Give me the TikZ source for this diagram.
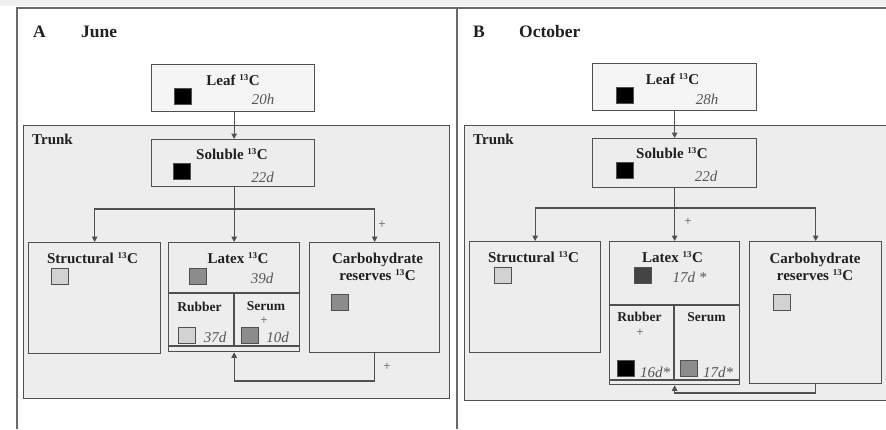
\documentclass[tikz,border=0pt]{standalone}
\usepackage{fontspec}
\setmainfont{Liberation Serif}
\usetikzlibrary{arrows.meta}
\definecolor{ln}{HTML}{505050}
\definecolor{frame}{HTML}{6A6A6A}
\definecolor{trk}{HTML}{EDEDED}
\definecolor{numcol}{HTML}{555555}
\definecolor{txt}{HTML}{202020}
\definecolor{lgray}{HTML}{D2D2D2}
\definecolor{mgray}{HTML}{8C8C8C}
\definecolor{dgray}{HTML}{444444}
\newcommand{\thirteen}{\textsuperscript{\fontsize{9}{10}\selectfont 13}}
\begin{document}
\begin{tikzpicture}[x=1pt,y=-1pt,
  box/.style={draw=ln, line width=1.3pt, fill=trk, inner sep=0pt, rectangle, anchor=north west},
  sq/.style={draw=ln, line width=1pt, minimum width=17pt, minimum height=16pt, inner sep=0pt},
  ttl/.style={font=\fontsize{15}{17}\selectfont\bfseries, text=txt, inner sep=0pt, align=center},
  sub/.style={font=\fontsize{13.5}{15}\selectfont\bfseries, text=txt, inner sep=0pt},
  head/.style={font=\fontsize{17.5}{19}\selectfont\bfseries, text=txt, inner sep=0pt, anchor=west},
  num/.style={font=\fontsize{15}{17}\selectfont\itshape, text=numcol, inner sep=0pt},
  pl/.style={font=\fontsize{13}{14}\selectfont, text=numcol, inner sep=0pt},
  conn/.style={draw=ln, line width=1.2pt},
  arr/.style={conn, -{Triangle[length=5.5pt,width=5.5pt]}}]
\useasboundingbox (0,0) rectangle (886,429);
\fill[white] (0,0) rectangle (886,429);
\fill[black!6] (0,0) rectangle (886,6);
% panel frames
\draw[frame, line width=1.3pt] (17,429) -- (17,8) -- (886,8);
\draw[frame, line width=1.3pt] (457,8) -- (457,429);
% ---------------- Panel A ----------------
\node[head] (hA) at (33,32) {A};
\node[head] (mA) at (81,32) {June};
\node[box, minimum width=426pt, minimum height=273pt] (trunkA) at (23,125) {};
\node[ttl, anchor=west] (tA) at (32,139) {Trunk};
\node[box, fill=white!96!black, minimum width=163pt, minimum height=47pt] (leafA) at (151,64) {};
\node[box, minimum width=163pt, minimum height=47pt] (solA) at (151,139) {};
\node[box, minimum width=132pt, minimum height=111pt] (strA) at (28,242) {};
\node[box, minimum width=131pt, minimum height=109pt] (latA) at (168,242) {};
\node[box, minimum width=130pt, minimum height=110pt] (carbA) at (309,242) {};
\draw[conn] (168,293) -- (299,293);
\draw[conn] (234,293) -- (234,346);
\draw[conn] (168,346) -- (299,346);
\node[ttl] (leafAt) at (233,80) {Leaf \thirteen C};
\node[sq, fill=black] (leafAs) at (182.5,96.5) {};
\node[num] (leafAn) at (263,99) {20h};
\node[ttl] (solAt) at (232,154) {Soluble \thirteen C};
\node[sq, fill=black] (solAs) at (182,171.5) {};
\node[num] (solAn) at (262.5,177) {22d};
\node[ttl] (strAt) at (92.5,258) {Structural \thirteen C};
\node[sq, fill=lgray] (strAs) at (60,276) {};
\node[ttl] (latAt) at (238,258) {Latex \thirteen C};
\node[sq, fill=mgray] (latAs) at (198,276) {};
\node[num] (latAn) at (262,278) {39d};
\node[sub] (rubA) at (199.5,307) {Rubber};
\node[sub] (serA) at (266,306) {Serum};
\node[pl] (serAp) at (264,321) {+};
\node[sq, fill=lgray] (rubAs) at (187,335.5) {};
\node[num] (rubAn) at (215,337) {37d};
\node[sq, fill=mgray] (serAs) at (250,335.5) {};
\node[num] (serAn) at (277.5,337) {10d};
\node[ttl] (carbAt) at (377.5,267) {Carbohydrate\\reserves \thirteen C};
\node[sq, fill=mgray] (carbAs) at (339.5,302.5) {};
% connectors A
\draw[arr] (latA.north |- leafA.south) -- (latA.north |- solA.north);
\coordinate (brA) at (latA.north |- 0,209);
\draw[arr] (latA.north |- solA.south) -- (latA.north);
\draw[arr] (brA) -| (strA.north);
\draw[arr] (brA) -| (carbA.north);
\node[pl] (pA1) at (382,225) {+};
\coordinate (fbA) at (carbA.south |- 0,381);
\draw[arr] (carbA.south) -- (fbA) -| (latA.south);
\node[pl] (pA2) at (387,367) {+};
% ---------------- Panel B ----------------
\node[head] (hB) at (473,32) {B};
\node[head] (mB) at (519,32) {October};
\node[box, minimum width=440pt, minimum height=275pt] (trunkB) at (464,125) {};
\node[ttl, anchor=west] (tB) at (473,139) {Trunk};
\node[box, fill=white!96!black, minimum width=164pt, minimum height=47pt] (leafB) at (592,63) {};
\node[box, minimum width=164pt, minimum height=49pt] (solB) at (592,138) {};
\node[box, minimum width=131pt, minimum height=111pt] (strB) at (469,241) {};
\node[box, minimum width=130pt, minimum height=143pt] (latB) at (609,241) {};
\node[box, minimum width=132pt, minimum height=142pt] (carbB) at (749,241) {};
\draw[conn] (609,305) -- (739,305);
\draw[conn] (674,305) -- (674,380);
\draw[conn] (609,380) -- (739,380);
\node[ttl] (leafBt) at (672.5,79) {Leaf \thirteen C};
\node[sq, fill=black] (leafBs) at (625,95) {};
\node[num] (leafBn) at (707,99) {28h};
\node[ttl] (solBt) at (672,153) {Soluble \thirteen C};
\node[sq, fill=black] (solBs) at (625,170.5) {};
\node[num] (solBn) at (706,176) {22d};
\node[ttl] (strBt) at (533.5,257) {Structural \thirteen C};
\node[sq, fill=lgray] (strBs) at (502.5,275.5) {};
\node[ttl] (latBt) at (672.5,257) {Latex \thirteen C};
\node[sq, fill=dgray] (latBs) at (642.5,275.5) {};
\node[num] (latBn) at (689.5,277) {17d *};
\node[sub] (rubB) at (639.5,317) {Rubber};
\node[pl] (rubBp) at (640,333) {+};
\node[sub] (serB) at (706.5,317) {Serum};
\node[sq, fill=black] (rubBs) at (626,368) {};
\node[num] (rubBn) at (655,372) {16d*};
\node[sq, fill=mgray] (serBs) at (688.5,368.5) {};
\node[num] (serBn) at (718,372) {17d*};
\node[ttl] (carbBt) at (815,267) {Carbohydrate\\reserves \thirteen C};
\node[sq, fill=lgray] (carbBs) at (782,302) {};
% connectors B
\draw[arr] (latB.north |- leafB.south) -- (latB.north |- solB.north);
\coordinate (brB) at (latB.north |- 0,208);
\draw[arr] (latB.north |- solB.south) -- (latB.north);
\draw[arr] (brB) -| (strB.north);
\draw[arr] (brB) -| (carbB.north);
\node[pl] (pB1) at (688,222) {+};
\coordinate (fbB) at (carbB.south |- 0,393);
\draw[arr] (carbB.south) -- (fbB) -| (latB.south);
\end{tikzpicture}
\end{document}
